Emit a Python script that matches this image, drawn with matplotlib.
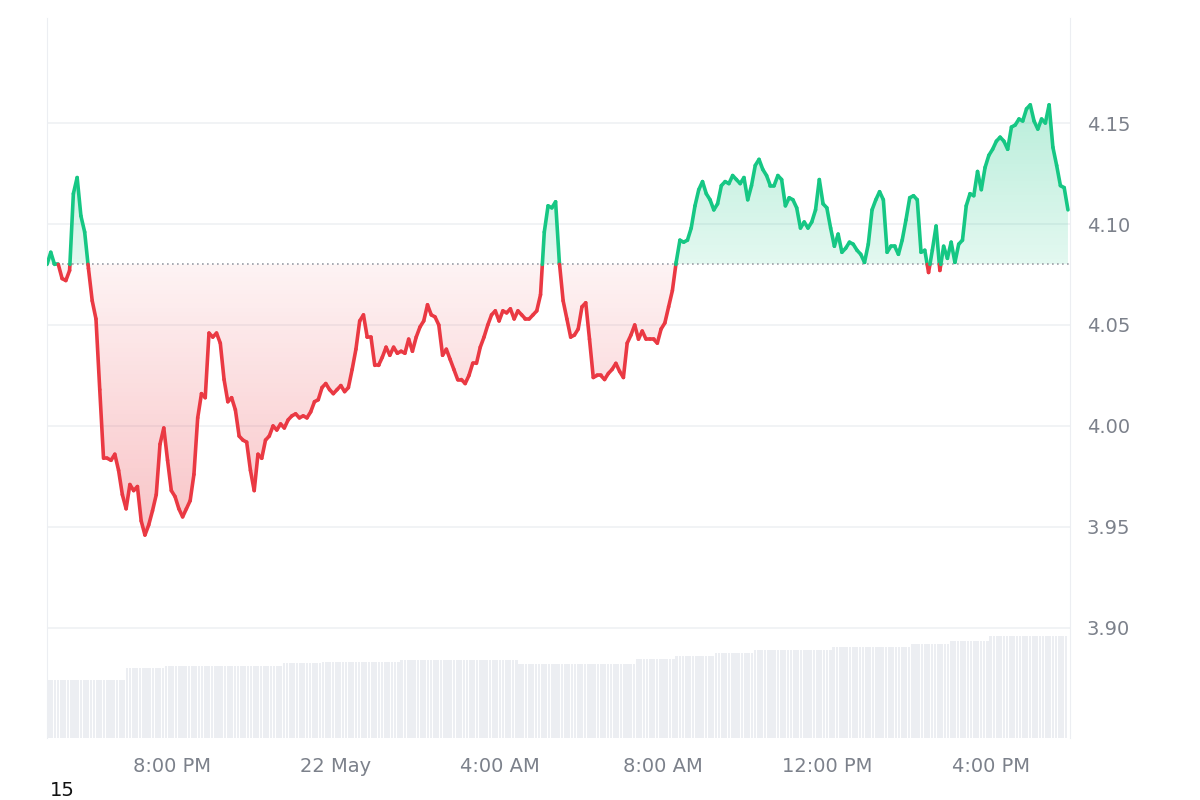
import numpy as np
import pandas as pd
import matplotlib
matplotlib.use("Agg")
import matplotlib.pyplot as plt
from matplotlib.collections import LineCollection
from matplotlib.patches import Polygon

baseline = 4.08
prices = [4.080,4.086,4.080,4.080,4.073,4.072,4.077,4.115,4.123,4.104,4.096,4.078,4.062,4.053,4.018,3.984,3.984,3.983,3.986,3.978,3.966,3.959,3.971,3.968,3.970,3.953,3.946,3.951,3.958,3.966,3.991,3.999,3.983,3.968,3.965,3.959,3.955,3.959,3.963,3.976,4.004,4.016,4.014,4.046,4.044,4.046,4.041,4.023,4.012,4.014,4.008,3.995,3.993,3.992,3.978,3.968,3.986,3.984,3.993,3.995,4.000,3.998,4.001,3.999,4.003,4.005,4.006,4.004,4.005,4.004,4.007,4.012,4.013,4.019,4.021,4.018,4.016,4.018,4.020,4.017,4.019,4.028,4.038,4.052,4.055,4.044,4.044,4.030,4.030,4.034,4.039,4.035,4.039,4.036,4.037,4.036,4.043,4.037,4.044,4.049,4.052,4.060,4.055,4.054,4.050,4.035,4.038,4.033,4.028,4.023,4.023,4.021,4.025,4.031,4.031,4.039,4.044,4.050,4.055,4.057,4.052,4.057,4.056,4.058,4.053,4.057,4.055,4.053,4.053,4.055,4.057,4.065,4.096,4.109,4.108,4.111,4.081,4.062,4.053,4.044,4.045,4.048,4.059,4.061,4.043,4.024,4.025,4.025,4.023,4.026,4.028,4.031,4.027,4.024,4.041,4.045,4.050,4.043,4.047,4.043,4.043,4.043,4.041,4.048,4.051,4.059,4.067,4.081,4.092,4.091,4.092,4.098,4.109,4.117,4.121,4.115,4.112,4.107,4.110,4.119,4.121,4.120,4.124,4.122,4.120,4.123,4.112,4.119,4.129,4.132,4.127,4.124,4.119,4.119,4.124,4.122,4.109,4.113,4.112,4.108,4.098,4.101,4.098,4.101,4.107,4.122,4.110,4.108,4.098,4.089,4.095,4.086,4.088,4.091,4.090,4.087,4.085,4.081,4.090,4.107,4.112,4.116,4.112,4.086,4.089,4.089,4.085,4.092,4.102,4.113,4.114,4.112,4.086,4.087,4.076,4.087,4.099,4.077,4.089,4.083,4.091,4.081,4.090,4.092,4.109,4.115,4.114,4.126,4.117,4.128,4.134,4.137,4.141,4.143,4.141,4.137,4.148,4.149,4.152,4.151,4.157,4.159,4.151,4.147,4.152,4.150,4.159,4.138,4.129,4.119,4.118,4.107]
volume = [58,58,70,72,72,72,75,76,76,78,78,78,74,74,74,79,82,85,88,88,91,91,94,97,102,102]

start = pd.Timestamp("2024-05-21 16:57")
end = pd.Timestamp("2024-05-22 17:53")
times = pd.date_range(start, end, periods=len(prices))
x = np.array([(t - start).total_seconds() / 3600 for t in times])
y = np.array(prices)
vt = pd.date_range(start, end, periods=len(volume) + 1)
vx = np.array([(t - start).total_seconds() / 3600 for t in vt])
xmax = x[-1] + 0.05

fig = plt.figure(figsize=(12, 8), dpi=100)
pos = [47/1200, 62/800, 1023/1200, 720/800]
axv = fig.add_axes(pos)
axv.set_xlim(0, xmax)
axv.set_ylim(0, 720)
for i, v in enumerate(volume):
    n = 12
    edges = np.linspace(vx[i], vx[i+1], n + 1)
    axv.bar(edges[:-1], [v] * n, width=(edges[1]-edges[0]) * 0.8, align="edge", color="#eceef2", linewidth=0)
axv.axis("off")

ax = fig.add_axes(pos)
ax.patch.set_alpha(0)
ymin, ymax = 3.8455, 4.202
ax.set_xlim(0, xmax)
ax.set_ylim(ymin, ymax)

# gradient fills
def grad_fill(where_above, cmap_colors):
    yy = np.where(where_above, np.maximum(y, baseline), np.minimum(y, baseline))
    verts = [(x[0], baseline)] + list(zip(x, yy)) + [(x[-1], baseline)]
    poly = Polygon(verts, closed=True, facecolor="none", edgecolor="none")
    ax.add_patch(poly)
    return poly

# green
pg = grad_fill(True, None)
g = np.linspace(0, 1, 256).reshape(-1, 1)
from matplotlib.colors import LinearSegmentedColormap
cg = LinearSegmentedColormap.from_list("g", [(0.086, 0.78, 0.52, 0.30), (0.086, 0.78, 0.52, 0.12)])
im = ax.imshow(g[::-1], extent=[0, xmax, baseline, 4.16], aspect="auto", cmap=cg, origin="lower", zorder=1)
im.set_clip_path(pg)
pr = grad_fill(False, None)
cr = LinearSegmentedColormap.from_list("r", [(0.92, 0.22, 0.26, 0.30), (0.92, 0.22, 0.26, 0.06)])
im2 = ax.imshow(g, extent=[0, xmax, 3.945, baseline], aspect="auto", cmap=cr, origin="lower", zorder=1)
im2.set_clip_path(pr)

# line segments colored
segs, cols = [], []
for i in range(len(x) - 1):
    x0, x1, y0, y1 = x[i], x[i+1], y[i], y[i+1]
    if (y0 - baseline) * (y1 - baseline) < 0:
        xc = x0 + (baseline - y0) / (y1 - y0) * (x1 - x0)
        pts = [((x0, y0), (xc, baseline)), ((xc, baseline), (x1, y1))]
        for p in pts:
            segs.append(p)
            cols.append("#16c784" if (p[0][1] + p[1][1]) / 2 >= baseline else "#ea3943")
    else:
        segs.append(((x0, y0), (x1, y1)))
        cols.append("#16c784" if (y0 + y1) / 2 >= baseline else "#ea3943")
ax.add_collection(LineCollection(segs, colors=cols, linewidths=2.6, capstyle="round", joinstyle="round", zorder=3))
ax.axhline(baseline, color="#9a9ea6", linestyle=(0, (1, 2)), linewidth=1.2, zorder=2)

yt = [3.90, 3.95, 4.00, 4.05, 4.10, 4.15]
ax.set_yticks(yt)
ax.set_yticklabels([f"{v:.2f}" for v in yt])
ax.yaxis.tick_right()
ax.grid(axis="y", color="#eff1f4", linewidth=1.2)
ax.set_axisbelow(True)
xt_labels = ["8:00 PM", "22 May", "4:00 AM", "8:00 AM", "12:00 PM", "4:00 PM"]
xt = [3.05 + 4 * i for i in range(6)]
ax.set_xticks(xt)
ax.set_xticklabels(xt_labels)
ax.tick_params(axis="both", length=0, labelsize=14, colors="#7c818b", pad=14)
ax.tick_params(axis="y", pad=12)
for s in ["top", "bottom"]:
    ax.spines[s].set_visible(False)
for s in ["left", "right"]:
    ax.spines[s].set_color("#eceef2")
fig.text(50/1200, 1 - 790/800, "15", fontsize=14, color="#111111", va="center")
fig.savefig("out.png", dpi=100, facecolor="white")
